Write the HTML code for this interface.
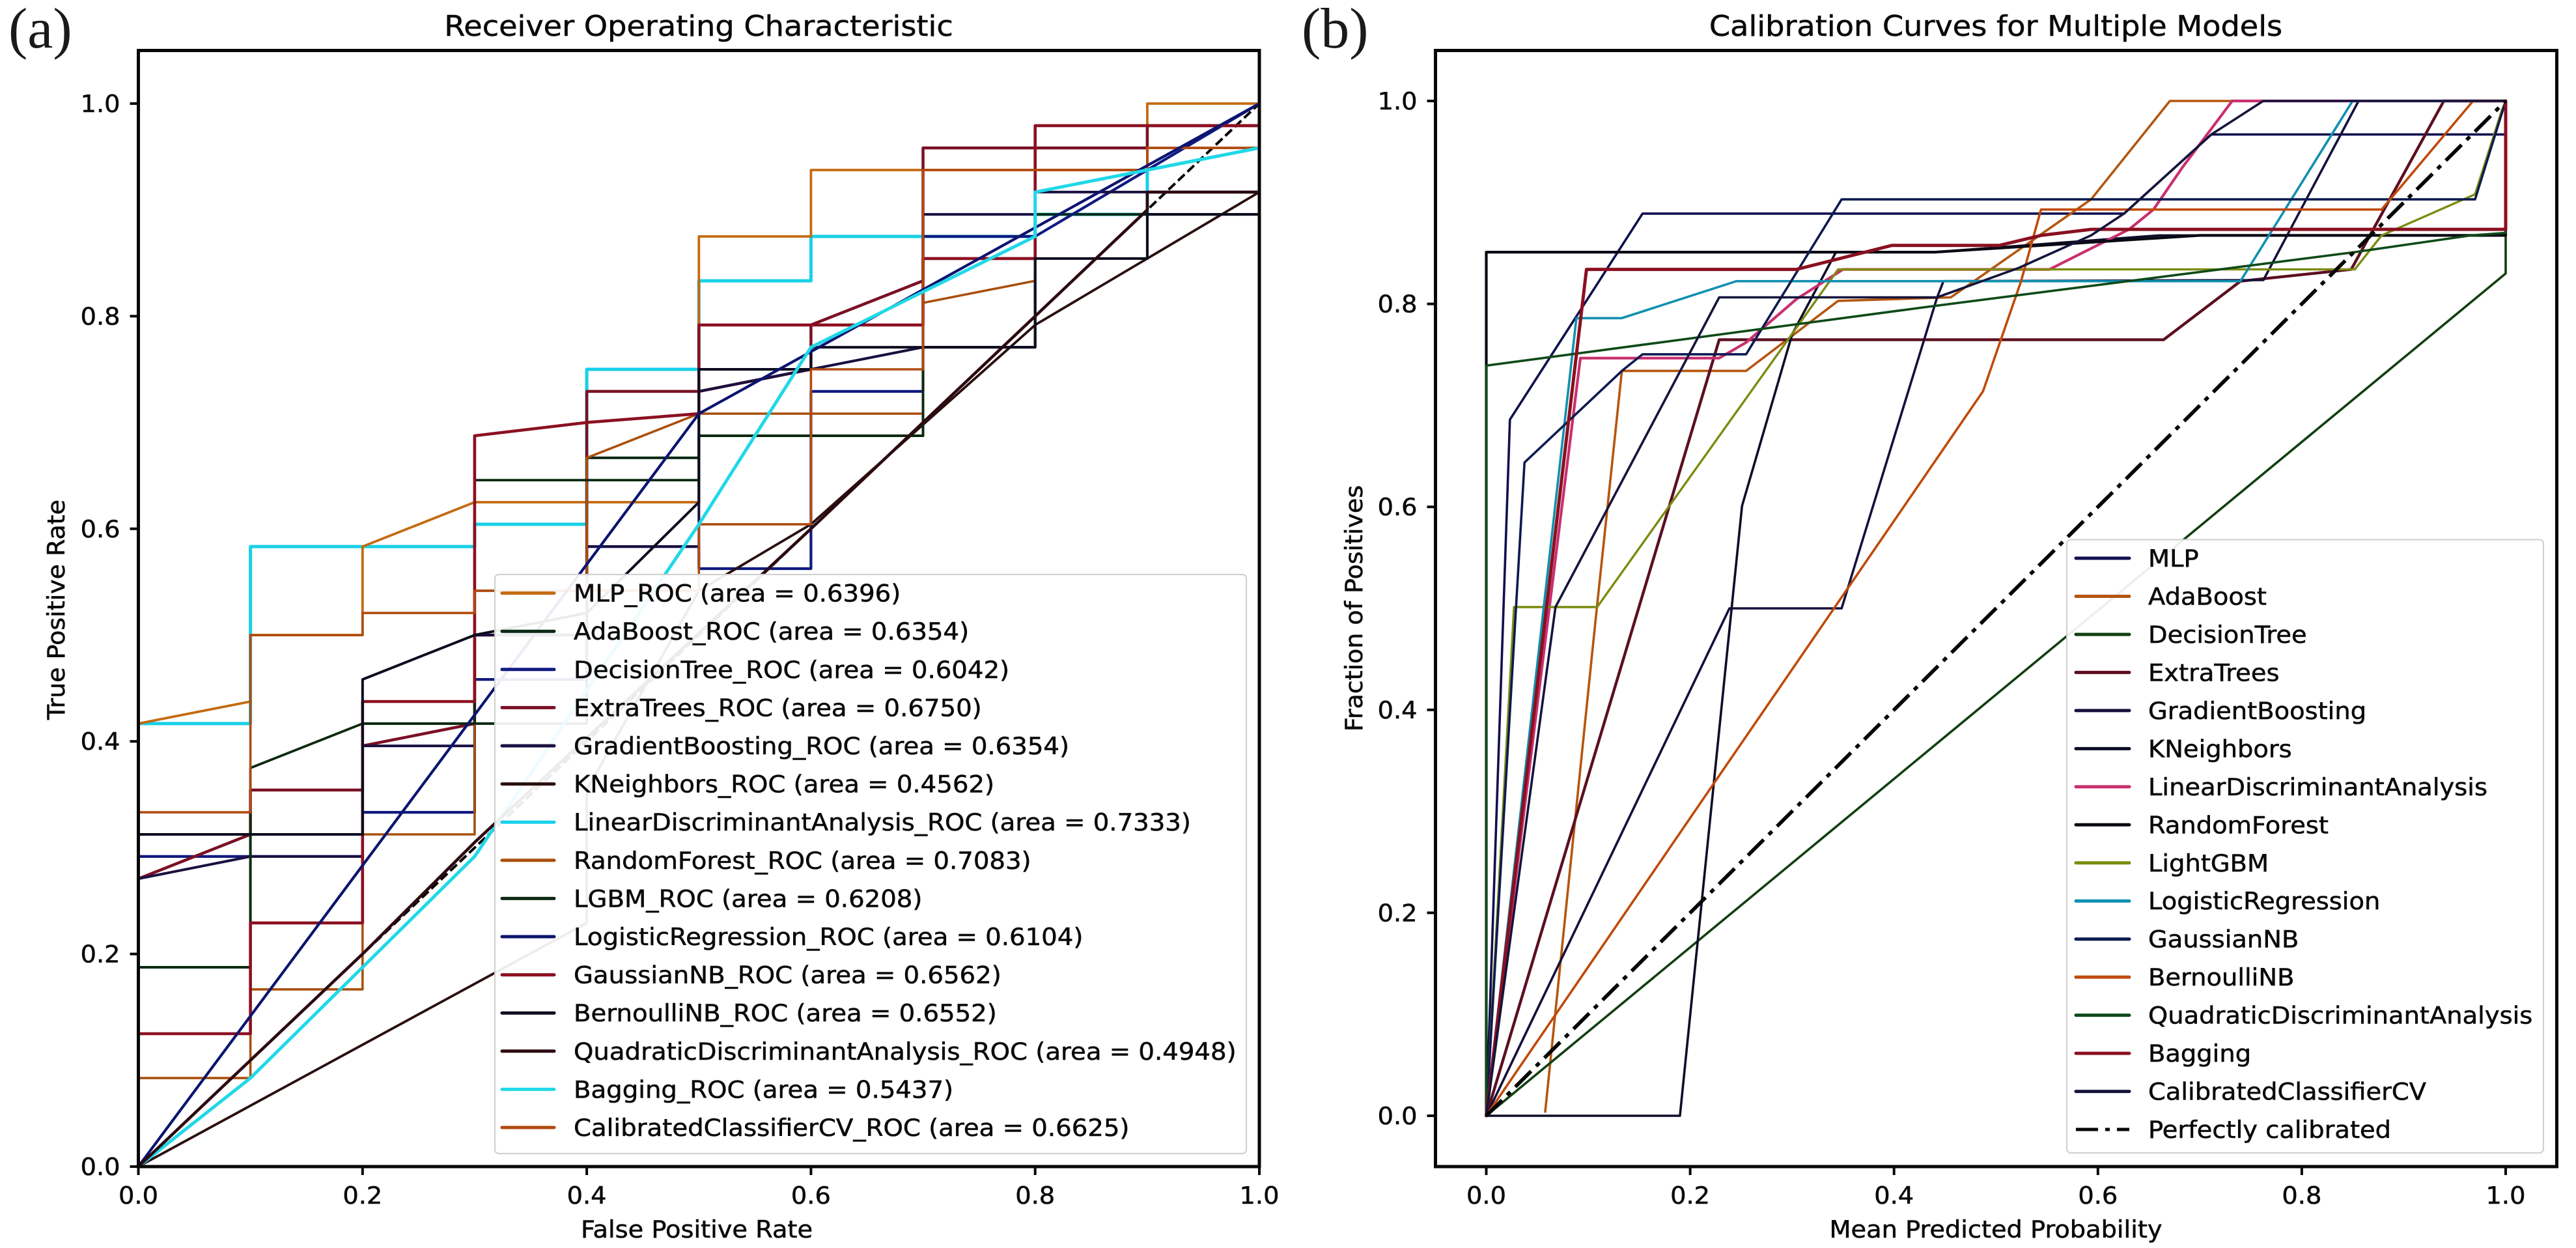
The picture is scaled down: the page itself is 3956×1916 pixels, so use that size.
<!DOCTYPE html>
<html lang="en">
<head>
<meta charset="utf-8">
<title>ROC and Calibration Curves</title>
<style>
html,body{margin:0;padding:0;background:#fff;}
svg{display:block;}
text{font-family:"DejaVu Sans","Liberation Sans",sans-serif;fill:#0a0a0a;stroke:#0a0a0a;stroke-width:0.55px;}
.panel-tag{font-family:"Liberation Serif","DejaVu Serif",serif;font-size:88px;fill:#1a1a1a;stroke:none;}
</style>
</head>
<body>
<svg id="chart" xmlns="http://www.w3.org/2000/svg" width="3956" height="1916" viewBox="0 0 3956 1916">
  <rect x="0" y="0" width="3956" height="1916" fill="#ffffff"/>
  <text class="panel-tag" x="13" y="73">(a)</text>
  <text class="panel-tag" x="1999" y="73">(b)</text>
  <text transform="translate(1073 55) scale(1.05 1)" text-anchor="middle" font-size="44">Receiver Operating Characteristic</text>
  <text transform="translate(3065 55) scale(1.05 1)" text-anchor="middle" font-size="44">Calibration Curves for Multiple Models</text>
  <text transform="translate(1070 1900) scale(1.05 1)" text-anchor="middle" font-size="36.5">False Positive Rate</text>
  <text transform="translate(99 936) rotate(-90) scale(1.04 1)" text-anchor="middle" font-size="36.5">True Positive Rate</text>
  <text transform="translate(3065 1900) scale(1.05 1)" text-anchor="middle" font-size="36.5">Mean Predicted Probability</text>
  <text transform="translate(2092 934) rotate(-90) scale(1.04 1)" text-anchor="middle" font-size="36.5">Fraction of Positives</text>
  <g id="roc-plot"></g>
  <g id="cal-plot"></g>
</svg>
<script>
// ---------- Axis ticks ----------
const rocXTicks = [0, 0.2, 0.4, 0.6, 0.8, 1];
const rocYTicks = [0, 0.2, 0.4, 0.6, 0.8, 1];
const calXTicks = [0, 0.2, 0.4, 0.6, 0.8, 1];
const calYTicks = [0, 0.2, 0.4, 0.6, 0.8, 1];
const tickLabels = ["0.0", "0.2", "0.4", "0.6", "0.8", "1.0"];

// ---------- ROC series ----------
const rocLabels = [
  "MLP_ROC (area = 0.6396)",
  "AdaBoost_ROC (area = 0.6354)",
  "DecisionTree_ROC (area = 0.6042)",
  "ExtraTrees_ROC (area = 0.6750)",
  "GradientBoosting_ROC (area = 0.6354)",
  "KNeighbors_ROC (area = 0.4562)",
  "LinearDiscriminantAnalysis_ROC (area = 0.7333)",
  "RandomForest_ROC (area = 0.7083)",
  "LGBM_ROC (area = 0.6208)",
  "LogisticRegression_ROC (area = 0.6104)",
  "GaussianNB_ROC (area = 0.6562)",
  "BernoulliNB_ROC (area = 0.6552)",
  "QuadraticDiscriminantAnalysis_ROC (area = 0.4948)",
  "Bagging_ROC (area = 0.5437)",
  "CalibratedClassifierCV_ROC (area = 0.6625)"
];
const rocMlpX = [0,0,.1,.1,.2,.2,.3,.5,.5,.6,.6,.9,.9,1];
const rocMlpY = [0,.4167,.4375,.5,.5,.5833,.625,.625,.875,.875,.9375,.9375,1,1];
const rocAdaX = [0,0,.1,.1,.2,.2,.4,.4,.5,.5,.7,.7,.8,.8,1];
const rocAdaY = [0,.1875,.1875,.3125,.3125,.4167,.4167,.6667,.6667,.6875,.6875,.7708,.7708,.8958,.8958];
const rocTreeX = [0,0,.2,.2,.3,.3,.4,.4,.5,.5,.6,.6,.7,.7,.8,1];
const rocTreeY = [0,.2917,.2917,.3333,.3333,.4583,.4583,.5833,.5833,.5625,.5625,.7292,.7292,.875,.875,1];
const rocExtraX = [0,0,.1,.1,.2,.2,.3,.3,.4,.4,.5,.6,.6,.7,.7,.9,.9,1];
const rocExtraY = [0,.2708,.3125,.3542,.3542,.3958,.4167,.5,.5,.7292,.7292,.75,.7917,.8333,.9583,.9583,.9792,.9792];
const rocGradX = [0,0,.1,.2,.2,.3,.3,.4,.4,.5,.5,.6,.7,.7,.8,.8,1,1];
const rocGradY = [0,.2708,.2917,.2917,.3958,.3958,.5,.5,.5833,.5833,.7292,.75,.7708,.8958,.8958,.9167,.9167,1];
const rocKnnX = [0,.4,.4,.5,.6,.8,.9,1];
const rocKnnY = [0,.2292,.3542,.5417,.6042,.7917,.8542,.9167];
const rocLdaX = [0,0,.1,.1,.3,.3,.4,.4,.5,.5,.6,.6,.8,.8,.9,.9,1];
const rocLdaY = [0,.4167,.4167,.5833,.5833,.6042,.6042,.75,.75,.8333,.8333,.875,.875,.8958,.8958,.9375,.9583];
const rocForestX = [0,0,.1,.1,.2,.2,.3,.3,.4,.4,.5,.7,.7,.8,.8,.9,.9,1];
const rocForestY = [0,.0833,.0833,.1667,.1667,.3125,.3125,.5417,.5417,.6667,.7083,.7083,.8125,.8333,.9375,.9375,.9583,.9583];
const rocLgbmX = [0,0,.1,.1,.2,.3,.3,.5,.5,.7,.7,.8,.8,.9,.9,1];
const rocLgbmY = [0,.1875,.1875,.375,.4167,.4167,.6458,.6458,.6875,.6875,.7708,.7708,.8542,.8542,.9167,.9167];
const rocLogitX = [0,.5,1];
const rocLogitY = [0,.7083,1];
const rocGaussX = [0,0,.1,.1,.2,.2,.3,.3,.4,.5,.5,.7,.7,.8,.8,1];
const rocGaussY = [0,.125,.125,.2292,.2292,.4375,.4375,.6875,.7,.7083,.7917,.7917,.8542,.8542,.9792,.9792];
const rocBernX = [0,0,.2,.2,.3,.4,.5,.5,.6,.6,.8,.8,.9,.9,1,1];
const rocBernY = [0,.3125,.3125,.4583,.5,.5208,.625,.75,.75,.7708,.7708,.8542,.8542,.8958,.8958,1];
const rocQdaX = [0,.1,.2,.3,.6,.9,.9,1];
const rocQdaY = [0,.1,.2,.305,.6,.9,.9167,.9167];
const rocBagX = [0,.1,.2,.3,.5,.6,.7,.8,.8,.9,1];
const rocBagY = [0,.0833,.1875,.2917,.6042,.7708,.8229,.875,.9167,.9375,.9583];
const rocCalX = [0,0,.1,.1,.2,.2,.3,.3,.5,.5,.6,.6,.7,.7,.9,.9,1,1];
const rocCalY = [0,.3333,.3333,.5,.5,.5208,.5208,.5417,.5417,.6042,.6042,.75,.75,.9375,.9375,.9583,.9583,1];
const rocChanceX = [0,1];
const rocChanceY = [0,1];

const rocXs = [rocMlpX,rocAdaX,rocTreeX,rocExtraX,rocGradX,rocKnnX,rocLdaX,rocForestX,rocLgbmX,rocLogitX,rocGaussX,rocBernX,rocQdaX,rocBagX,rocCalX];
const rocYs = [rocMlpY,rocAdaY,rocTreeY,rocExtraY,rocGradY,rocKnnY,rocLdaY,rocForestY,rocLgbmY,rocLogitY,rocGaussY,rocBernY,rocQdaY,rocBagY,rocCalY];
const rocColors = ["#c46a10","#0a2a15","#101a80","#7a1024","#1a1040","#2a0f0f","#18d0e8","#a9500f","#0d2a10","#0c1470","#8c1022","#0d0d20","#2c0a10","#20d8e8","#b04a10"];
const rocWidths = [3.8,4,4.2,4.5,4,3.8,5,3.6,3.8,4.2,4.6,4,4.6,5,3.6];
const rocDrawOrder = [6,0,1,2,3,4,5,7,8,10,11,14,9,13,12];

// ---------- Calibration series ----------
const calLabels = [
  "MLP","AdaBoost","DecisionTree","ExtraTrees","GradientBoosting","KNeighbors",
  "LinearDiscriminantAnalysis","RandomForest","LightGBM","LogisticRegression",
  "GaussianNB","BernoulliNB","QuadraticDiscriminantAnalysis","Bagging",
  "CalibratedClassifierCV","Perfectly calibrated"
];
const calMlpX = [0,.0232,.1533,.6257,.7113,1,1];
const calMlpY = [0,.686,.889,.889,.967,.967,1];
const calAdaX = [.0578,.1067,.133,.2549,.3451,.4557,.5933,.6706,1];
const calAdaY = [.004,.4833,.734,.734,.803,.8065,.903,1,1];
const calTreeX = [0,1,1];
const calTreeY = [0,.83,.87];
const calExtraX = [0,.2285,.6644,.7398,.8485,.9393,1];
const calExtraY = [0,.7647,.7647,.8224,.834,1,1];
const calGradX = [0,.2385,.3486,.4423,.4485,.7623,.8557,1];
const calGradY = [0,.5,.5,.8065,.8224,.8235,1,1];
const calKnnX = [0,.19,.2509,.3,.343,.44,.66,1,1];
const calKnnY = [0,0,.601,.77,.851,.851,.8675,.8675,1];
const calLdaX = [0,.0923,.2285,.2549,.3044,.35,.5524,.6306,.6545,.6828,.7317,1];
const calLdaY = [0,.7466,.7466,.762,.8048,.834,.834,.8735,.893,.9344,1,1];
const calForestX = [0,0,.44,.7,1,1];
const calForestY = [0,.851,.851,.8675,.8675,1];
const calLgbmX = [0,.0272,.1088,.3451,.852,.8783,.97,.996,1];
const calLgbmY = [0,.5013,.5013,.834,.834,.8675,.908,.99,1];
const calLogitX = [0,.0884,.133,.2453,.7398,.8498,1];
const calLogitY = [0,.786,.786,.8224,.8224,1,1];
const calGaussX = [0,.0375,.133,.1533,.2549,.3486,.97,1];
const calGaussY = [0,.6437,.734,.7504,.7504,.903,.903,1];
const calBernX = [0,.2227,.4873,.5246,.5442,.8783,.968,1];
const calBernY = [0,.3267,.714,.8224,.893,.893,1,1];
const calQdaX = [0,0,.4302,.8518,.9661,1,1];
const calQdaY = [0,.7392,.7968,.851,.8675,.87,1];
const calBagX = [0,.0983,.3044,.398,.5035,.5442,.5933,1,1];
const calBagY = [0,.834,.834,.8577,.8577,.8675,.8735,.8735,1];
const calCalibX = [0,.0679,.2285,.4423,.5223,.5933,.6257,.7113,.7622,1];
const calCalibY = [0,.5013,.8065,.8065,.8355,.8675,.889,.967,1,1];
const calPerfectX = [0,1];
const calPerfectY = [0,1];

const calXs = [calMlpX,calAdaX,calTreeX,calExtraX,calGradX,calKnnX,calLdaX,calForestX,calLgbmX,calLogitX,calGaussX,calBernX,calQdaX,calBagX,calCalibX];
const calYs = [calMlpY,calAdaY,calTreeY,calExtraY,calGradY,calKnnY,calLdaY,calForestY,calLgbmY,calLogitY,calGaussY,calBernY,calQdaY,calBagY,calCalibY];
const calColors = ["#10104f","#b5560f","#123f10","#5c0f20","#14103c","#0d0d28","#c8306f","#0a0a14","#7c8c10","#1090b0","#0d1a50","#c04a0a","#0f4a18","#8a1020","#14143c"];
const calWidths = [3.6,3.6,3.6,4.4,3.6,3.6,4.2,4.2,3.4,3.6,3.6,3.6,3.6,5,3.6];

// ---------- Axis functions ----------
function rocPx(v){ return 212.5 + 1721.5 * v; }
function rocPy(v){ return 1791 - 1632 * v; }
function calPx(v){ return 2282.5 + 1565.5 * v; }
function calPy(v){ return 1713 - 1558 * v; }

const NS = "http://www.w3.org/2000/svg";
function make(tag, parent, attrs){
  const el = document.createElementNS(NS, tag);
  for (const k in attrs) el.setAttribute(k, attrs[k]);
  parent.appendChild(el);
  return el;
}
function slug(s){ return s.toLowerCase().replace(/[^a-z0-9]+/g, '-').replace(/-+$/,''); }
function pathFrom(xs, ys, fx, fy){
  return xs.map(function(x, i){ return (i ? 'L' : 'M') + fx(x).toFixed(1) + ' ' + fy(ys[i]).toFixed(1); }).join(' ');
}

function drawPanel(cfg){
  const g = cfg.group;
  // reference diagonal
  const diag = make('path', g, {d: pathFrom(cfg.diagX, cfg.diagY, cfg.fx, cfg.fy), fill:'none', stroke:'#050505', 'stroke-width':cfg.diagWidth, 'stroke-dasharray':cfg.diagDash});
  
  
  // series lines
  cfg.order.forEach(function(i){
    const line = make('path', g, {d: pathFrom(cfg.xs[i], cfg.ys[i], cfg.fx, cfg.fy), fill:'none', stroke:cfg.colors[i], 'stroke-width':cfg.widths[i], 'stroke-linejoin':'round', 'stroke-linecap':'round'});
    
    
  });
  // diagonal redrawn over calibration curves where it sits on top in the reference
  if (cfg.diagOnTop) {
    const top = make('path', g, {d: pathFrom(cfg.diagX, cfg.diagY, cfg.fx, cfg.fy), fill:'none', stroke:'#050505', 'stroke-width':cfg.diagWidth, 'stroke-dasharray':cfg.diagDash});
    
    
  }
  // frame
  const frame = make('rect', g, {x:cfg.left, y:cfg.top, width:cfg.right-cfg.left, height:cfg.bottom-cfg.top, fill:'none', stroke:'#070707', 'stroke-width':5});
  
  
  // x ticks
  cfg.xTicks.forEach(function(t, i){
    const px = cfg.fx(t);
    const mark = make('line', g, {x1:px, x2:px, y1:cfg.bottom, y2:cfg.bottom+13, stroke:'#070707', 'stroke-width':4});
    
    
    const label = make('text', g, {transform:'translate(' + px + ' 1848) scale(1.05 1)', 'text-anchor':'middle', 'font-size':36.5});
    label.textContent = tickLabels[i];
    
    
  });
  // y ticks
  cfg.yTicks.forEach(function(t, i){
    const py = cfg.fy(t);
    const mark = make('line', g, {x1:cfg.left-13, x2:cfg.left, y1:py, y2:py, stroke:'#070707', 'stroke-width':4});
    
    
    const label = make('text', g, {transform:'translate(' + (cfg.left-28) + ' ' + (py+13) + ') scale(1.05 1)', 'text-anchor':'end', 'font-size':36.5});
    label.textContent = tickLabels[i];
    
    
  });
  // legend
  const lg = make('g', g, {});
  
  
  const box = make('rect', lg, {x:cfg.lgLeft, y:cfg.lgTop, width:cfg.lgRight-cfg.lgLeft, height:cfg.lgBottom-cfg.lgTop, rx:6, ry:6, fill:'#ffffff', 'fill-opacity':0.92, stroke:'#cfcfcf', 'stroke-width':2});
  
  
  cfg.labels.forEach(function(txt, i){
    const y = cfg.lgFirst + i * cfg.lgStep;
    const isRef = i >= cfg.colors.length;
    const attrs = {x1:cfg.hLeft, x2:cfg.hRight, y1:y, y2:y, stroke:isRef ? '#050505' : cfg.colors[i], 'stroke-width':isRef ? 5 : 5, 'stroke-linecap':'round'};
    if (isRef) { attrs['stroke-dasharray'] = '34 11 7 11'; attrs['stroke-linecap'] = 'butt'; }
    const handle = make('line', lg, attrs);
    
    
    const label = make('text', lg, {transform:'translate(' + cfg.textX + ' ' + (y+13) + ') scale(1.05 1)', 'font-size':cfg.lgFont});
    label.textContent = txt;
    
    
  });
}

drawPanel({
  group: document.getElementById('roc-plot'), prefix:'roc',
  xs:rocXs, ys:rocYs, colors:rocColors, widths:rocWidths, labels:rocLabels, order:rocDrawOrder,
  fx:rocPx, fy:rocPy, xTicks:rocXTicks, yTicks:rocYTicks,
  diagX:rocChanceX, diagY:rocChanceY, diagWidth:4, diagDash:'14 6', diagOnTop:false,
  left:212.5, right:1934, top:77.5, bottom:1791,
  lgLeft:760, lgRight:1914, lgTop:882, lgBottom:1771, lgFirst:910.6, lgStep:58.6,
  hLeft:771, hRight:851, textX:881, lgFont:36.8
});
drawPanel({
  group: document.getElementById('cal-plot'), prefix:'calibration',
  xs:calXs, ys:calYs, colors:calColors, widths:calWidths, labels:calLabels,
  order:calColors.map(function(c, i){ return i; }),
  fx:calPx, fy:calPy, xTicks:calXTicks, yTicks:calYTicks,
  diagX:calPerfectX, diagY:calPerfectY, diagWidth:5.5, diagDash:'34 11 7 11', diagOnTop:true,
  left:2204.5, right:3926.5, top:77.5, bottom:1791,
  lgLeft:3174, lgRight:3906, lgTop:828.5, lgBottom:1770, lgFirst:857, lgStep:58.47,
  hLeft:3188, hRight:3270, textX:3299, lgFont:36.6
});
</script>
</body>
</html>
